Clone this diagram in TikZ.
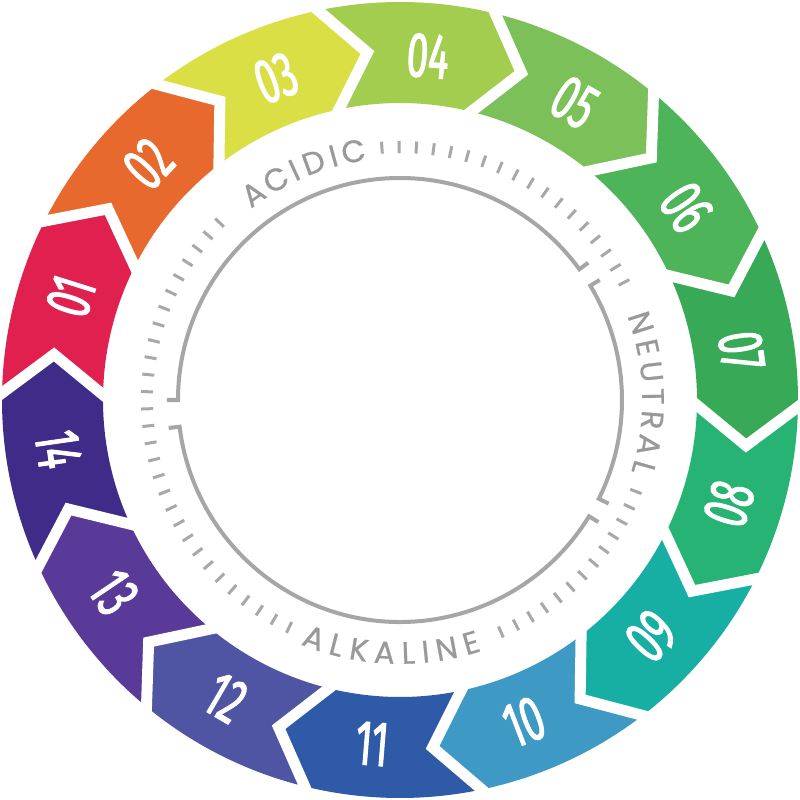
\documentclass[tikz,border=0pt]{standalone}
\usepackage{fontspec}
\usetikzlibrary{calc}
\newfontfamily\numfont[FakeStretch=0.6,FakeBold=1.6]{Fira Sans}
\newfontfamily\lblfont[FakeBold=0.6]{Poppins}
\definecolor{c01}{HTML}{E0214F}
\definecolor{c02}{HTML}{E8692D}
\definecolor{c03}{HTML}{D9DF45}
\definecolor{c04}{HTML}{A3CD4F}
\definecolor{c05}{HTML}{7CC05A}
\definecolor{c06}{HTML}{4DB459}
\definecolor{c07}{HTML}{38A956}
\definecolor{c08}{HTML}{26B374}
\definecolor{c09}{HTML}{17AFA3}
\definecolor{c10}{HTML}{3E99C4}
\definecolor{c11}{HTML}{2E5AA7}
\definecolor{c12}{HTML}{5055A3}
\definecolor{c13}{HTML}{5A3A98}
\definecolor{c14}{HTML}{3F2C88}
\definecolor{labelgray}{HTML}{999999}
\definecolor{tickgray}{HTML}{A8A8A8}
\definecolor{arcgray}{HTML}{A6A6A6}
\begin{document}
\begin{tikzpicture}[x=1pt,y=1pt,
  seglabel/.style={text=white, font=\numfont\fontsize{64}{64}\selectfont, inner sep=0pt},
  ringlabel/.style={text=labelgray, font=\lblfont\fontsize{31}{31}\selectfont, inner sep=0pt},
  tickmark/.style={draw=tickgray, line width=3},
  gapline/.style={draw=white, line width=11, line join=miter, miter limit=20},
  scalearc/.style={draw=arcgray, line width=4, line join=miter}]
\useasboundingbox[fill=white] (-400,-400) rectangle (400,400);
\def\st{25.7142857}
% ring segments
\foreach \k/\col in {1/c01,2/c02,3/c03,4/c04,5/c05,6/c06,7/c07,8/c08,9/c09,10/c10,11/c11,12/c12,13/c13,14/c14}{
  \pgfmathsetmacro\ab{172.5-(\k-1)*\st}
  \pgfmathsetmacro\af{\ab-\st}
  \pgfmathsetmacro\abo{\ab+6.5}
  \pgfmathsetmacro\afo{\af+6.5}
  \fill[\col] (\abo:398) arc[start angle=\abo, end angle=\afo, radius=398]
    -- (\af:349) -- (\afo:297) arc[start angle=\afo, end angle=\abo, radius=297]
    -- (\ab:349) -- cycle;
}
% white gaps between arrows
\foreach \k in {0,...,13}{
  \pgfmathsetmacro\a{172.5-\k*\st}
  \pgfmathsetmacro\ao{\a+6.5}
  \draw[gapline] ($(\a:349)!1.5!(\ao:398)$) -- (\a:349) -- ($(\a:349)!1.5!(\ao:297)$);
}
\fill[white] (0,0) circle[radius=296];
% numbers
\foreach \k/\lab in {1/01,2/02,3/03,4/04,5/05,6/06,7/07,8/08,9/09,10/10,11/11,12/12,13/13,14/14}{
  \pgfmathsetmacro\t{172.5-(\k-1)*\st-10}
  \pgfmathsetmacro\r{\k<8 ? \t-90 : \t+90}
  \node[seglabel, rotate=\r] (num\k) at (\t:345) {\lab};
}
% tick marks
\foreach \i in {0,...,17}{
  \pgfmathsetmacro\t{94.1-\i*3.906}
  \draw[tickmark] (\t:247) -- (\t:259);
}
\foreach \i in {0,...,12}{
  \pgfmathsetmacro\t{-21.2-\i*3.775}
  \draw[tickmark] (\t:247) -- (\t:259);
}
\foreach \i in {0,...,28}{
  \pgfmathsetmacro\t{-116-\i*3.875}
  \draw[tickmark] (\t:247) -- (\t:259);
}
% ring labels
\foreach \ch/\ang [count=\i] in {A/125.45,C/119.37,I/114.71,D/109.99,I/105.27,C/100.61}{
  \node[ringlabel, rotate=\ang-90] (acid\i) at (\ang:253) {\ch};
}
\foreach \ch/\ang [count=\i] in {N/17.76,E/12.02,U/6.45,T/0.82,R/-4.53,A/-10.27,L/-15.61}{
  \node[ringlabel, rotate=\ang-90] (neut\i) at (\ang:253) {\ch};
}
\foreach \ch/\ang [count=\i] in {A/-109.85,L/-104.5,K/-99.3,A/-93.5,L/-88.1,I/-84.2,N/-79.4,E/-73.7}{
  \node[ringlabel, rotate=\ang+90] (alk\i) at (\ang:253) {\ch};
}
% inner bracketed arcs
\draw[scalearc] (36.1:233) -- (36.1:222) arc[start angle=36.1, end angle=180, radius=222] -- (180:233);
\draw[scalearc] (31:233) -- (31:222) arc[start angle=31, end angle=-26.4, radius=222] -- (-26.4:233);
\draw[scalearc] (-31.6:233) -- (-31.6:222) arc[start angle=-31.6, end angle=-173.1, radius=222] -- (-173.1:233);
\end{tikzpicture}
\end{document}
